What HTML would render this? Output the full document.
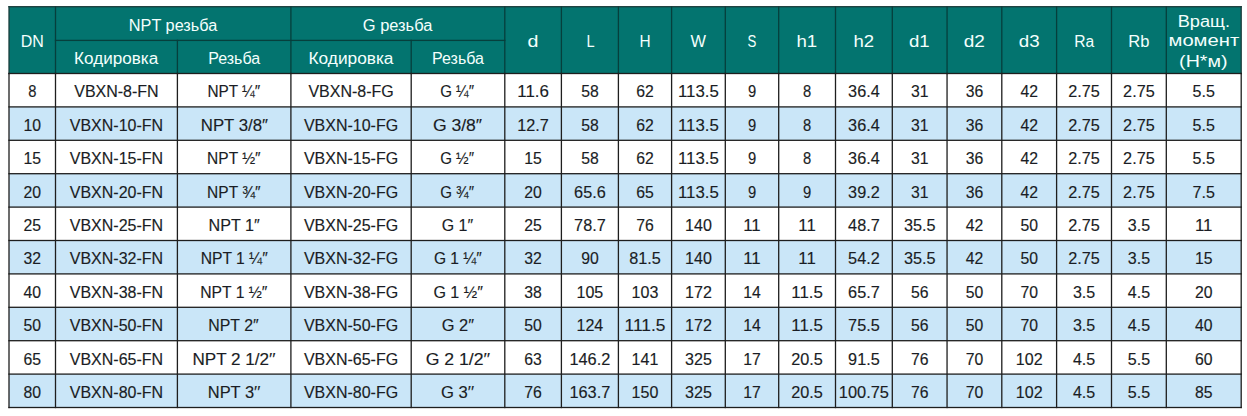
<!DOCTYPE html>
<html><head><meta charset="utf-8"><title>VBXN</title>
<style>
html,body{margin:0;padding:0;background:#fff;width:1247px;height:416px;overflow:hidden}
svg{display:block;font-family:"Liberation Sans",sans-serif}
.b text{stroke:#1a1d24;stroke-width:0.15px}

</style></head><body>
<svg width="1247" height="416" viewBox="0 0 1247 416">
<rect x="9" y="6.7" width="1232.2" height="66.8" fill="#03746f"/>
<rect x="9" y="106.9" width="1232.2" height="33.4" fill="#cae6f8"/>
<rect x="9" y="173.7" width="1232.2" height="33.4" fill="#cae6f8"/>
<rect x="9" y="240.5" width="1232.2" height="33.4" fill="#cae6f8"/>
<rect x="9" y="307.3" width="1232.2" height="33.4" fill="#cae6f8"/>
<rect x="9" y="374.1" width="1232.2" height="33.4" fill="#cae6f8"/>
<rect x="54.85" y="39.75" width="450.6" height="1.3" fill="#063f3c"/>
<rect x="8.35" y="6.05" width="1.3" height="68.1" fill="#1a3c3b"/>
<rect x="54.85" y="6.05" width="1.3" height="68.1" fill="#063f3c"/>
<rect x="176.75" y="39.75" width="1.3" height="34.4" fill="#063f3c"/>
<rect x="290.25" y="6.05" width="1.3" height="68.1" fill="#063f3c"/>
<rect x="410.55" y="39.75" width="1.3" height="34.4" fill="#063f3c"/>
<rect x="504.15" y="6.05" width="1.3" height="68.1" fill="#063f3c"/>
<rect x="560.75" y="6.05" width="1.3" height="68.1" fill="#063f3c"/>
<rect x="617.75" y="6.05" width="1.3" height="68.1" fill="#063f3c"/>
<rect x="670.95" y="6.05" width="1.3" height="68.1" fill="#063f3c"/>
<rect x="724.65" y="6.05" width="1.3" height="68.1" fill="#063f3c"/>
<rect x="778.05" y="6.05" width="1.3" height="68.1" fill="#063f3c"/>
<rect x="834.85" y="6.05" width="1.3" height="68.1" fill="#063f3c"/>
<rect x="891.65" y="6.05" width="1.3" height="68.1" fill="#063f3c"/>
<rect x="946.4" y="6.05" width="1.3" height="68.1" fill="#063f3c"/>
<rect x="1001.15" y="6.05" width="1.3" height="68.1" fill="#063f3c"/>
<rect x="1055.95" y="6.05" width="1.3" height="68.1" fill="#063f3c"/>
<rect x="1110.85" y="6.05" width="1.3" height="68.1" fill="#063f3c"/>
<rect x="1165.65" y="6.05" width="1.3" height="68.1" fill="#063f3c"/>
<rect x="1240.55" y="6.05" width="1.3" height="68.1" fill="#1a3c3b"/>
<rect x="8.35" y="6.05" width="1233.5" height="1.3" fill="#1a3c3b"/>
<rect x="8.35" y="72.85" width="1233.5" height="1.3" fill="#1e1e1e"/>
<rect x="8.35" y="106.25" width="1233.5" height="1.3" fill="#1e1e1e"/>
<rect x="8.35" y="139.65" width="1233.5" height="1.3" fill="#1e1e1e"/>
<rect x="8.35" y="173.05" width="1233.5" height="1.3" fill="#1e1e1e"/>
<rect x="8.35" y="206.45" width="1233.5" height="1.3" fill="#1e1e1e"/>
<rect x="8.35" y="239.85" width="1233.5" height="1.3" fill="#1e1e1e"/>
<rect x="8.35" y="273.25" width="1233.5" height="1.3" fill="#1e1e1e"/>
<rect x="8.35" y="306.65" width="1233.5" height="1.3" fill="#1e1e1e"/>
<rect x="8.35" y="340.05" width="1233.5" height="1.3" fill="#1e1e1e"/>
<rect x="8.35" y="373.45" width="1233.5" height="1.3" fill="#1e1e1e"/>
<rect x="8.35" y="406.85" width="1233.5" height="1.3" fill="#1e1e1e"/>
<rect x="8.35" y="72.85" width="1.3" height="335.3" fill="#1e1e1e"/>
<rect x="54.85" y="72.85" width="1.3" height="335.3" fill="#1e1e1e"/>
<rect x="176.75" y="72.85" width="1.3" height="335.3" fill="#1e1e1e"/>
<rect x="290.25" y="72.85" width="1.3" height="335.3" fill="#1e1e1e"/>
<rect x="410.55" y="72.85" width="1.3" height="335.3" fill="#1e1e1e"/>
<rect x="504.15" y="72.85" width="1.3" height="335.3" fill="#1e1e1e"/>
<rect x="560.75" y="72.85" width="1.3" height="335.3" fill="#1e1e1e"/>
<rect x="617.75" y="72.85" width="1.3" height="335.3" fill="#1e1e1e"/>
<rect x="670.95" y="72.85" width="1.3" height="335.3" fill="#1e1e1e"/>
<rect x="724.65" y="72.85" width="1.3" height="335.3" fill="#1e1e1e"/>
<rect x="778.05" y="72.85" width="1.3" height="335.3" fill="#1e1e1e"/>
<rect x="834.85" y="72.85" width="1.3" height="335.3" fill="#1e1e1e"/>
<rect x="891.65" y="72.85" width="1.3" height="335.3" fill="#1e1e1e"/>
<rect x="946.4" y="72.85" width="1.3" height="335.3" fill="#1e1e1e"/>
<rect x="1001.15" y="72.85" width="1.3" height="335.3" fill="#1e1e1e"/>
<rect x="1055.95" y="72.85" width="1.3" height="335.3" fill="#1e1e1e"/>
<rect x="1110.85" y="72.85" width="1.3" height="335.3" fill="#1e1e1e"/>
<rect x="1165.65" y="72.85" width="1.3" height="335.3" fill="#1e1e1e"/>
<rect x="1240.55" y="72.85" width="1.3" height="335.3" fill="#1e1e1e"/>
<g class="h">
<text x="32.25" y="47" fill="#f4fffd" font-size="16" text-anchor="middle">DN</text>
<text x="128.8" y="30.5" fill="#f4fffd" font-size="16" textLength="88.53" lengthAdjust="spacingAndGlyphs">NPT резьба</text>
<text x="362.8" y="30.6" fill="#f4fffd" font-size="16" textLength="69.54" lengthAdjust="spacingAndGlyphs">G резьба</text>
<text x="74.1" y="63.9" fill="#f4fffd" font-size="16" textLength="84.07" lengthAdjust="spacingAndGlyphs">Кодировка</text>
<text x="234.15" y="63.9" fill="#f4fffd" font-size="16" text-anchor="middle">Резьба</text>
<text x="308.5" y="63.9" fill="#f4fffd" font-size="16" textLength="84.97" lengthAdjust="spacingAndGlyphs">Кодировка</text>
<text x="458" y="63.9" fill="#f4fffd" font-size="16" text-anchor="middle">Резьба</text>
<text x="527.6" y="47" fill="#f4fffd" font-size="16" textLength="10.92" lengthAdjust="spacingAndGlyphs">d</text>
<text x="586.5" y="47" fill="#f4fffd" font-size="16" textLength="8.12" lengthAdjust="spacingAndGlyphs">L</text>
<text x="639.4" y="47" fill="#f4fffd" font-size="16" textLength="11.13" lengthAdjust="spacingAndGlyphs">H</text>
<text x="690.5" y="47" fill="#f4fffd" font-size="16" textLength="15.48" lengthAdjust="spacingAndGlyphs">W</text>
<text x="747.6" y="47" fill="#f4fffd" font-size="16" textLength="8.83" lengthAdjust="spacingAndGlyphs">S</text>
<text x="796.4" y="47" fill="#f4fffd" font-size="16" textLength="20.74" lengthAdjust="spacingAndGlyphs">h1</text>
<text x="853.4" y="47" fill="#f4fffd" font-size="16" textLength="20.64" lengthAdjust="spacingAndGlyphs">h2</text>
<text x="909" y="47" fill="#f4fffd" font-size="16" textLength="20.64" lengthAdjust="spacingAndGlyphs">d1</text>
<text x="963.8" y="47" fill="#f4fffd" font-size="16" textLength="21.14" lengthAdjust="spacingAndGlyphs">d2</text>
<text x="1018.8" y="47" fill="#f4fffd" font-size="16" textLength="20.84" lengthAdjust="spacingAndGlyphs">d3</text>
<text x="1074.3" y="47" fill="#f4fffd" font-size="16" textLength="19.97" lengthAdjust="spacingAndGlyphs">Ra</text>
<text x="1128.3" y="47" fill="#f4fffd" font-size="16" textLength="21.17" lengthAdjust="spacingAndGlyphs">Rb</text>
<text x="1177.7" y="26.6" fill="#f4fffd" font-size="16" textLength="52.3" lengthAdjust="spacingAndGlyphs">Вращ.</text>
<text x="1168.5" y="46.3" fill="#f4fffd" font-size="16" textLength="70.65" lengthAdjust="spacingAndGlyphs">момент</text>
<text x="1179.1" y="66.6" fill="#f4fffd" font-size="16" textLength="48.5" lengthAdjust="spacingAndGlyphs">(Н*м)</text>
</g><g class="b">
<text x="28.15" y="97.3" fill="#1a1d24" font-size="16.5" textLength="8.22" lengthAdjust="spacingAndGlyphs">8</text>
<text x="116.45" y="97.3" fill="#1a1d24" font-size="16" text-anchor="middle">VBXN-8-FN</text>
<text x="207.4" y="97.3" fill="#1a1d24" font-size="16" textLength="52.87" lengthAdjust="spacingAndGlyphs">NPT ¼″</text>
<text x="351.05" y="97.3" fill="#1a1d24" font-size="16" text-anchor="middle">VBXN-8-FG</text>
<text x="440.2" y="97.3" fill="#1a1d24" font-size="16" textLength="33.78" lengthAdjust="spacingAndGlyphs">G ¼″</text>
<text x="517.3" y="97.3" fill="#1a1d24" font-size="16.5" textLength="31.64" lengthAdjust="spacingAndGlyphs">11.6</text>
<text x="581.15" y="97.3" fill="#1a1d24" font-size="16.5" textLength="17.54" lengthAdjust="spacingAndGlyphs">58</text>
<text x="636.25" y="97.3" fill="#1a1d24" font-size="16.5" textLength="17.54" lengthAdjust="spacingAndGlyphs">62</text>
<text x="678" y="97.3" fill="#1a1d24" font-size="16.5" textLength="40.87" lengthAdjust="spacingAndGlyphs">113.5</text>
<text x="747.9" y="97.3" fill="#1a1d24" font-size="16.5" textLength="8.22" lengthAdjust="spacingAndGlyphs">9</text>
<text x="803" y="97.3" fill="#1a1d24" font-size="16.5" textLength="8.22" lengthAdjust="spacingAndGlyphs">8</text>
<text x="848.1" y="97.3" fill="#1a1d24" font-size="16.5" textLength="31.62" lengthAdjust="spacingAndGlyphs">36.4</text>
<text x="910.92" y="97.3" fill="#1a1d24" font-size="16.5" textLength="17.54" lengthAdjust="spacingAndGlyphs">31</text>
<text x="965.67" y="97.3" fill="#1a1d24" font-size="16.5" textLength="17.54" lengthAdjust="spacingAndGlyphs">36</text>
<text x="1020.45" y="97.3" fill="#1a1d24" font-size="16.5" textLength="17.54" lengthAdjust="spacingAndGlyphs">42</text>
<text x="1068.25" y="97.3" fill="#1a1d24" font-size="16.5" textLength="31.62" lengthAdjust="spacingAndGlyphs">2.75</text>
<text x="1123.1" y="97.3" fill="#1a1d24" font-size="16.5" textLength="31.62" lengthAdjust="spacingAndGlyphs">2.75</text>
<text x="1192.6" y="97.3" fill="#1a1d24" font-size="16.5" textLength="22.3" lengthAdjust="spacingAndGlyphs">5.5</text>
<text x="23.5" y="130.7" fill="#1a1d24" font-size="16.5" textLength="17.54" lengthAdjust="spacingAndGlyphs">10</text>
<text x="116.45" y="130.7" fill="#1a1d24" font-size="16" text-anchor="middle">VBXN-10-FN</text>
<text x="200.8" y="130.7" fill="#1a1d24" font-size="16" textLength="67.18" lengthAdjust="spacingAndGlyphs">NPT 3/8″</text>
<text x="351.05" y="130.7" fill="#1a1d24" font-size="16" text-anchor="middle">VBXN-10-FG</text>
<text x="432.9" y="130.7" fill="#1a1d24" font-size="16" textLength="49.2" lengthAdjust="spacingAndGlyphs">G 3/8″</text>
<text x="517.3" y="130.7" fill="#1a1d24" font-size="16.5" textLength="31.62" lengthAdjust="spacingAndGlyphs">12.7</text>
<text x="581.15" y="130.7" fill="#1a1d24" font-size="16.5" textLength="17.54" lengthAdjust="spacingAndGlyphs">58</text>
<text x="636.25" y="130.7" fill="#1a1d24" font-size="16.5" textLength="17.54" lengthAdjust="spacingAndGlyphs">62</text>
<text x="678" y="130.7" fill="#1a1d24" font-size="16.5" textLength="40.87" lengthAdjust="spacingAndGlyphs">113.5</text>
<text x="747.9" y="130.7" fill="#1a1d24" font-size="16.5" textLength="8.22" lengthAdjust="spacingAndGlyphs">9</text>
<text x="803" y="130.7" fill="#1a1d24" font-size="16.5" textLength="8.22" lengthAdjust="spacingAndGlyphs">8</text>
<text x="848.1" y="130.7" fill="#1a1d24" font-size="16.5" textLength="31.62" lengthAdjust="spacingAndGlyphs">36.4</text>
<text x="910.92" y="130.7" fill="#1a1d24" font-size="16.5" textLength="17.54" lengthAdjust="spacingAndGlyphs">31</text>
<text x="965.67" y="130.7" fill="#1a1d24" font-size="16.5" textLength="17.54" lengthAdjust="spacingAndGlyphs">36</text>
<text x="1020.45" y="130.7" fill="#1a1d24" font-size="16.5" textLength="17.54" lengthAdjust="spacingAndGlyphs">42</text>
<text x="1068.25" y="130.7" fill="#1a1d24" font-size="16.5" textLength="31.62" lengthAdjust="spacingAndGlyphs">2.75</text>
<text x="1123.1" y="130.7" fill="#1a1d24" font-size="16.5" textLength="31.62" lengthAdjust="spacingAndGlyphs">2.75</text>
<text x="1192.6" y="130.7" fill="#1a1d24" font-size="16.5" textLength="22.3" lengthAdjust="spacingAndGlyphs">5.5</text>
<text x="23.5" y="164.1" fill="#1a1d24" font-size="16.5" textLength="17.54" lengthAdjust="spacingAndGlyphs">15</text>
<text x="116.45" y="164.1" fill="#1a1d24" font-size="16" text-anchor="middle">VBXN-15-FN</text>
<text x="207.1" y="164.1" fill="#1a1d24" font-size="16" textLength="53.47" lengthAdjust="spacingAndGlyphs">NPT ½″</text>
<text x="351.05" y="164.1" fill="#1a1d24" font-size="16" text-anchor="middle">VBXN-15-FG</text>
<text x="440.2" y="164.1" fill="#1a1d24" font-size="16" textLength="33.78" lengthAdjust="spacingAndGlyphs">G ½″</text>
<text x="524.35" y="164.1" fill="#1a1d24" font-size="16.5" textLength="17.54" lengthAdjust="spacingAndGlyphs">15</text>
<text x="581.15" y="164.1" fill="#1a1d24" font-size="16.5" textLength="17.54" lengthAdjust="spacingAndGlyphs">58</text>
<text x="636.25" y="164.1" fill="#1a1d24" font-size="16.5" textLength="17.54" lengthAdjust="spacingAndGlyphs">62</text>
<text x="678" y="164.1" fill="#1a1d24" font-size="16.5" textLength="40.87" lengthAdjust="spacingAndGlyphs">113.5</text>
<text x="747.9" y="164.1" fill="#1a1d24" font-size="16.5" textLength="8.22" lengthAdjust="spacingAndGlyphs">9</text>
<text x="803" y="164.1" fill="#1a1d24" font-size="16.5" textLength="8.22" lengthAdjust="spacingAndGlyphs">8</text>
<text x="848.1" y="164.1" fill="#1a1d24" font-size="16.5" textLength="31.62" lengthAdjust="spacingAndGlyphs">36.4</text>
<text x="910.92" y="164.1" fill="#1a1d24" font-size="16.5" textLength="17.54" lengthAdjust="spacingAndGlyphs">31</text>
<text x="965.67" y="164.1" fill="#1a1d24" font-size="16.5" textLength="17.54" lengthAdjust="spacingAndGlyphs">36</text>
<text x="1020.45" y="164.1" fill="#1a1d24" font-size="16.5" textLength="17.54" lengthAdjust="spacingAndGlyphs">42</text>
<text x="1068.25" y="164.1" fill="#1a1d24" font-size="16.5" textLength="31.62" lengthAdjust="spacingAndGlyphs">2.75</text>
<text x="1123.1" y="164.1" fill="#1a1d24" font-size="16.5" textLength="31.62" lengthAdjust="spacingAndGlyphs">2.75</text>
<text x="1192.6" y="164.1" fill="#1a1d24" font-size="16.5" textLength="22.3" lengthAdjust="spacingAndGlyphs">5.5</text>
<text x="23.5" y="197.5" fill="#1a1d24" font-size="16.5" textLength="17.54" lengthAdjust="spacingAndGlyphs">20</text>
<text x="116.45" y="197.5" fill="#1a1d24" font-size="16" text-anchor="middle">VBXN-20-FN</text>
<text x="207.1" y="197.5" fill="#1a1d24" font-size="16" textLength="53.47" lengthAdjust="spacingAndGlyphs">NPT ¾″</text>
<text x="351.05" y="197.5" fill="#1a1d24" font-size="16" text-anchor="middle">VBXN-20-FG</text>
<text x="440.2" y="197.5" fill="#1a1d24" font-size="16" textLength="33.78" lengthAdjust="spacingAndGlyphs">G ¾″</text>
<text x="524.35" y="197.5" fill="#1a1d24" font-size="16.5" textLength="17.54" lengthAdjust="spacingAndGlyphs">20</text>
<text x="574.1" y="197.5" fill="#1a1d24" font-size="16.5" textLength="31.62" lengthAdjust="spacingAndGlyphs">65.6</text>
<text x="636.25" y="197.5" fill="#1a1d24" font-size="16.5" textLength="17.54" lengthAdjust="spacingAndGlyphs">65</text>
<text x="678" y="197.5" fill="#1a1d24" font-size="16.5" textLength="40.87" lengthAdjust="spacingAndGlyphs">113.5</text>
<text x="747.9" y="197.5" fill="#1a1d24" font-size="16.5" textLength="8.22" lengthAdjust="spacingAndGlyphs">9</text>
<text x="803" y="197.5" fill="#1a1d24" font-size="16.5" textLength="8.22" lengthAdjust="spacingAndGlyphs">9</text>
<text x="848.1" y="197.5" fill="#1a1d24" font-size="16.5" textLength="31.62" lengthAdjust="spacingAndGlyphs">39.2</text>
<text x="910.92" y="197.5" fill="#1a1d24" font-size="16.5" textLength="17.54" lengthAdjust="spacingAndGlyphs">31</text>
<text x="965.67" y="197.5" fill="#1a1d24" font-size="16.5" textLength="17.54" lengthAdjust="spacingAndGlyphs">36</text>
<text x="1020.45" y="197.5" fill="#1a1d24" font-size="16.5" textLength="17.54" lengthAdjust="spacingAndGlyphs">42</text>
<text x="1068.25" y="197.5" fill="#1a1d24" font-size="16.5" textLength="31.62" lengthAdjust="spacingAndGlyphs">2.75</text>
<text x="1123.1" y="197.5" fill="#1a1d24" font-size="16.5" textLength="31.62" lengthAdjust="spacingAndGlyphs">2.75</text>
<text x="1192.6" y="197.5" fill="#1a1d24" font-size="16.5" textLength="22.3" lengthAdjust="spacingAndGlyphs">7.5</text>
<text x="23.5" y="230.9" fill="#1a1d24" font-size="16.5" textLength="17.54" lengthAdjust="spacingAndGlyphs">25</text>
<text x="116.45" y="230.9" fill="#1a1d24" font-size="16" text-anchor="middle">VBXN-25-FN</text>
<text x="208.5" y="230.9" fill="#1a1d24" font-size="16" textLength="51.2" lengthAdjust="spacingAndGlyphs">NPT 1″</text>
<text x="351.05" y="230.9" fill="#1a1d24" font-size="16" text-anchor="middle">VBXN-25-FG</text>
<text x="441.8" y="230.9" fill="#1a1d24" font-size="16" textLength="31.31" lengthAdjust="spacingAndGlyphs">G 1″</text>
<text x="524.35" y="230.9" fill="#1a1d24" font-size="16.5" textLength="17.54" lengthAdjust="spacingAndGlyphs">25</text>
<text x="574.1" y="230.9" fill="#1a1d24" font-size="16.5" textLength="31.62" lengthAdjust="spacingAndGlyphs">78.7</text>
<text x="636.25" y="230.9" fill="#1a1d24" font-size="16.5" textLength="17.54" lengthAdjust="spacingAndGlyphs">76</text>
<text x="685.05" y="230.9" fill="#1a1d24" font-size="16.5" textLength="26.78" lengthAdjust="spacingAndGlyphs">140</text>
<text x="743.25" y="230.9" fill="#1a1d24" font-size="16.5" textLength="17.47" lengthAdjust="spacingAndGlyphs">11</text>
<text x="798.35" y="230.9" fill="#1a1d24" font-size="16.5" textLength="17.47" lengthAdjust="spacingAndGlyphs">11</text>
<text x="848.1" y="230.9" fill="#1a1d24" font-size="16.5" textLength="31.62" lengthAdjust="spacingAndGlyphs">48.7</text>
<text x="903.88" y="230.9" fill="#1a1d24" font-size="16.5" textLength="31.62" lengthAdjust="spacingAndGlyphs">35.5</text>
<text x="965.67" y="230.9" fill="#1a1d24" font-size="16.5" textLength="17.54" lengthAdjust="spacingAndGlyphs">42</text>
<text x="1020.45" y="230.9" fill="#1a1d24" font-size="16.5" textLength="17.54" lengthAdjust="spacingAndGlyphs">50</text>
<text x="1068.25" y="230.9" fill="#1a1d24" font-size="16.5" textLength="31.62" lengthAdjust="spacingAndGlyphs">2.75</text>
<text x="1127.75" y="230.9" fill="#1a1d24" font-size="16.5" textLength="22.3" lengthAdjust="spacingAndGlyphs">3.5</text>
<text x="1195" y="230.9" fill="#1a1d24" font-size="16.5" textLength="17.47" lengthAdjust="spacingAndGlyphs">11</text>
<text x="23.5" y="264.3" fill="#1a1d24" font-size="16.5" textLength="17.54" lengthAdjust="spacingAndGlyphs">32</text>
<text x="116.45" y="264.3" fill="#1a1d24" font-size="16" text-anchor="middle">VBXN-32-FN</text>
<text x="200.7" y="264.3" fill="#1a1d24" font-size="16" textLength="67.03" lengthAdjust="spacingAndGlyphs">NPT 1 ¼″</text>
<text x="351.05" y="264.3" fill="#1a1d24" font-size="16" text-anchor="middle">VBXN-32-FG</text>
<text x="433.9" y="264.3" fill="#1a1d24" font-size="16" textLength="47.86" lengthAdjust="spacingAndGlyphs">G 1 ¼″</text>
<text x="524.35" y="264.3" fill="#1a1d24" font-size="16.5" textLength="17.54" lengthAdjust="spacingAndGlyphs">32</text>
<text x="581.15" y="264.3" fill="#1a1d24" font-size="16.5" textLength="17.54" lengthAdjust="spacingAndGlyphs">90</text>
<text x="629.2" y="264.3" fill="#1a1d24" font-size="16.5" textLength="31.62" lengthAdjust="spacingAndGlyphs">81.5</text>
<text x="685.05" y="264.3" fill="#1a1d24" font-size="16.5" textLength="26.78" lengthAdjust="spacingAndGlyphs">140</text>
<text x="743.25" y="264.3" fill="#1a1d24" font-size="16.5" textLength="17.47" lengthAdjust="spacingAndGlyphs">11</text>
<text x="798.35" y="264.3" fill="#1a1d24" font-size="16.5" textLength="17.47" lengthAdjust="spacingAndGlyphs">11</text>
<text x="848.1" y="264.3" fill="#1a1d24" font-size="16.5" textLength="31.62" lengthAdjust="spacingAndGlyphs">54.2</text>
<text x="903.88" y="264.3" fill="#1a1d24" font-size="16.5" textLength="31.62" lengthAdjust="spacingAndGlyphs">35.5</text>
<text x="965.67" y="264.3" fill="#1a1d24" font-size="16.5" textLength="17.54" lengthAdjust="spacingAndGlyphs">42</text>
<text x="1020.45" y="264.3" fill="#1a1d24" font-size="16.5" textLength="17.54" lengthAdjust="spacingAndGlyphs">50</text>
<text x="1068.25" y="264.3" fill="#1a1d24" font-size="16.5" textLength="31.62" lengthAdjust="spacingAndGlyphs">2.75</text>
<text x="1127.75" y="264.3" fill="#1a1d24" font-size="16.5" textLength="22.3" lengthAdjust="spacingAndGlyphs">3.5</text>
<text x="1195" y="264.3" fill="#1a1d24" font-size="16.5" textLength="17.54" lengthAdjust="spacingAndGlyphs">15</text>
<text x="23.5" y="297.7" fill="#1a1d24" font-size="16.5" textLength="17.54" lengthAdjust="spacingAndGlyphs">40</text>
<text x="116.45" y="297.7" fill="#1a1d24" font-size="16" text-anchor="middle">VBXN-38-FN</text>
<text x="200.2" y="297.7" fill="#1a1d24" font-size="16" textLength="67.23" lengthAdjust="spacingAndGlyphs">NPT 1 ½″</text>
<text x="351.05" y="297.7" fill="#1a1d24" font-size="16" text-anchor="middle">VBXN-38-FG</text>
<text x="433.4" y="297.7" fill="#1a1d24" font-size="16" textLength="49.46" lengthAdjust="spacingAndGlyphs">G 1 ½″</text>
<text x="524.35" y="297.7" fill="#1a1d24" font-size="16.5" textLength="17.54" lengthAdjust="spacingAndGlyphs">38</text>
<text x="576.5" y="297.7" fill="#1a1d24" font-size="16.5" textLength="26.78" lengthAdjust="spacingAndGlyphs">105</text>
<text x="631.6" y="297.7" fill="#1a1d24" font-size="16.5" textLength="26.78" lengthAdjust="spacingAndGlyphs">103</text>
<text x="685.05" y="297.7" fill="#1a1d24" font-size="16.5" textLength="26.78" lengthAdjust="spacingAndGlyphs">172</text>
<text x="743.25" y="297.7" fill="#1a1d24" font-size="16.5" textLength="17.54" lengthAdjust="spacingAndGlyphs">14</text>
<text x="791.3" y="297.7" fill="#1a1d24" font-size="16.5" textLength="31.64" lengthAdjust="spacingAndGlyphs">11.5</text>
<text x="848.1" y="297.7" fill="#1a1d24" font-size="16.5" textLength="31.62" lengthAdjust="spacingAndGlyphs">65.7</text>
<text x="910.92" y="297.7" fill="#1a1d24" font-size="16.5" textLength="17.54" lengthAdjust="spacingAndGlyphs">56</text>
<text x="965.67" y="297.7" fill="#1a1d24" font-size="16.5" textLength="17.54" lengthAdjust="spacingAndGlyphs">50</text>
<text x="1020.45" y="297.7" fill="#1a1d24" font-size="16.5" textLength="17.54" lengthAdjust="spacingAndGlyphs">70</text>
<text x="1072.9" y="297.7" fill="#1a1d24" font-size="16.5" textLength="22.3" lengthAdjust="spacingAndGlyphs">3.5</text>
<text x="1127.75" y="297.7" fill="#1a1d24" font-size="16.5" textLength="22.3" lengthAdjust="spacingAndGlyphs">4.5</text>
<text x="1195" y="297.7" fill="#1a1d24" font-size="16.5" textLength="17.54" lengthAdjust="spacingAndGlyphs">20</text>
<text x="23.5" y="331.1" fill="#1a1d24" font-size="16.5" textLength="17.54" lengthAdjust="spacingAndGlyphs">50</text>
<text x="116.45" y="331.1" fill="#1a1d24" font-size="16" text-anchor="middle">VBXN-50-FN</text>
<text x="208.3" y="331.1" fill="#1a1d24" font-size="16" textLength="50.3" lengthAdjust="spacingAndGlyphs">NPT 2″</text>
<text x="351.05" y="331.1" fill="#1a1d24" font-size="16" text-anchor="middle">VBXN-50-FG</text>
<text x="441.8" y="331.1" fill="#1a1d24" font-size="16" textLength="32.21" lengthAdjust="spacingAndGlyphs">G 2″</text>
<text x="524.35" y="331.1" fill="#1a1d24" font-size="16.5" textLength="17.54" lengthAdjust="spacingAndGlyphs">50</text>
<text x="576.5" y="331.1" fill="#1a1d24" font-size="16.5" textLength="26.78" lengthAdjust="spacingAndGlyphs">124</text>
<text x="624.55" y="331.1" fill="#1a1d24" font-size="16.5" textLength="40.88" lengthAdjust="spacingAndGlyphs">111.5</text>
<text x="685.05" y="331.1" fill="#1a1d24" font-size="16.5" textLength="26.78" lengthAdjust="spacingAndGlyphs">172</text>
<text x="743.25" y="331.1" fill="#1a1d24" font-size="16.5" textLength="17.54" lengthAdjust="spacingAndGlyphs">14</text>
<text x="791.3" y="331.1" fill="#1a1d24" font-size="16.5" textLength="31.64" lengthAdjust="spacingAndGlyphs">11.5</text>
<text x="848.1" y="331.1" fill="#1a1d24" font-size="16.5" textLength="31.62" lengthAdjust="spacingAndGlyphs">75.5</text>
<text x="910.92" y="331.1" fill="#1a1d24" font-size="16.5" textLength="17.54" lengthAdjust="spacingAndGlyphs">56</text>
<text x="965.67" y="331.1" fill="#1a1d24" font-size="16.5" textLength="17.54" lengthAdjust="spacingAndGlyphs">50</text>
<text x="1020.45" y="331.1" fill="#1a1d24" font-size="16.5" textLength="17.54" lengthAdjust="spacingAndGlyphs">70</text>
<text x="1072.9" y="331.1" fill="#1a1d24" font-size="16.5" textLength="22.3" lengthAdjust="spacingAndGlyphs">3.5</text>
<text x="1127.75" y="331.1" fill="#1a1d24" font-size="16.5" textLength="22.3" lengthAdjust="spacingAndGlyphs">4.5</text>
<text x="1195" y="331.1" fill="#1a1d24" font-size="16.5" textLength="17.54" lengthAdjust="spacingAndGlyphs">40</text>
<text x="23.5" y="364.5" fill="#1a1d24" font-size="16.5" textLength="17.54" lengthAdjust="spacingAndGlyphs">65</text>
<text x="116.45" y="364.5" fill="#1a1d24" font-size="16" text-anchor="middle">VBXN-65-FN</text>
<text x="192.5" y="364.5" fill="#1a1d24" font-size="16" textLength="82.98" lengthAdjust="spacingAndGlyphs">NPT 2 1/2′′</text>
<text x="351.05" y="364.5" fill="#1a1d24" font-size="16" text-anchor="middle">VBXN-65-FG</text>
<text x="425.7" y="364.5" fill="#1a1d24" font-size="16" textLength="64.4" lengthAdjust="spacingAndGlyphs">G 2 1/2′′</text>
<text x="524.35" y="364.5" fill="#1a1d24" font-size="16.5" textLength="17.54" lengthAdjust="spacingAndGlyphs">63</text>
<text x="569.45" y="364.5" fill="#1a1d24" font-size="16.5" textLength="40.86" lengthAdjust="spacingAndGlyphs">146.2</text>
<text x="631.6" y="364.5" fill="#1a1d24" font-size="16.5" textLength="26.78" lengthAdjust="spacingAndGlyphs">141</text>
<text x="685.05" y="364.5" fill="#1a1d24" font-size="16.5" textLength="26.78" lengthAdjust="spacingAndGlyphs">325</text>
<text x="743.25" y="364.5" fill="#1a1d24" font-size="16.5" textLength="17.54" lengthAdjust="spacingAndGlyphs">17</text>
<text x="791.3" y="364.5" fill="#1a1d24" font-size="16.5" textLength="31.62" lengthAdjust="spacingAndGlyphs">20.5</text>
<text x="848.1" y="364.5" fill="#1a1d24" font-size="16.5" textLength="31.62" lengthAdjust="spacingAndGlyphs">91.5</text>
<text x="910.92" y="364.5" fill="#1a1d24" font-size="16.5" textLength="17.54" lengthAdjust="spacingAndGlyphs">76</text>
<text x="965.67" y="364.5" fill="#1a1d24" font-size="16.5" textLength="17.54" lengthAdjust="spacingAndGlyphs">70</text>
<text x="1015.8" y="364.5" fill="#1a1d24" font-size="16.5" textLength="26.78" lengthAdjust="spacingAndGlyphs">102</text>
<text x="1072.9" y="364.5" fill="#1a1d24" font-size="16.5" textLength="22.3" lengthAdjust="spacingAndGlyphs">4.5</text>
<text x="1127.75" y="364.5" fill="#1a1d24" font-size="16.5" textLength="22.3" lengthAdjust="spacingAndGlyphs">5.5</text>
<text x="1195" y="364.5" fill="#1a1d24" font-size="16.5" textLength="17.54" lengthAdjust="spacingAndGlyphs">60</text>
<text x="23.5" y="397.9" fill="#1a1d24" font-size="16.5" textLength="17.54" lengthAdjust="spacingAndGlyphs">80</text>
<text x="116.45" y="397.9" fill="#1a1d24" font-size="16" text-anchor="middle">VBXN-80-FN</text>
<text x="207.8" y="397.9" fill="#1a1d24" font-size="16" textLength="52.42" lengthAdjust="spacingAndGlyphs">NPT 3′′</text>
<text x="351.05" y="397.9" fill="#1a1d24" font-size="16" text-anchor="middle">VBXN-80-FG</text>
<text x="441" y="397.9" fill="#1a1d24" font-size="16" textLength="33.03" lengthAdjust="spacingAndGlyphs">G 3′′</text>
<text x="524.35" y="397.9" fill="#1a1d24" font-size="16.5" textLength="17.54" lengthAdjust="spacingAndGlyphs">76</text>
<text x="569.45" y="397.9" fill="#1a1d24" font-size="16.5" textLength="40.86" lengthAdjust="spacingAndGlyphs">163.7</text>
<text x="631.6" y="397.9" fill="#1a1d24" font-size="16.5" textLength="26.78" lengthAdjust="spacingAndGlyphs">150</text>
<text x="685.05" y="397.9" fill="#1a1d24" font-size="16.5" textLength="26.78" lengthAdjust="spacingAndGlyphs">325</text>
<text x="743.25" y="397.9" fill="#1a1d24" font-size="16.5" textLength="17.54" lengthAdjust="spacingAndGlyphs">17</text>
<text x="791.3" y="397.9" fill="#1a1d24" font-size="16.5" textLength="31.62" lengthAdjust="spacingAndGlyphs">20.5</text>
<text x="838.8" y="397.9" fill="#1a1d24" font-size="16.5" textLength="50.18" lengthAdjust="spacingAndGlyphs">100.75</text>
<text x="910.92" y="397.9" fill="#1a1d24" font-size="16.5" textLength="17.54" lengthAdjust="spacingAndGlyphs">76</text>
<text x="965.67" y="397.9" fill="#1a1d24" font-size="16.5" textLength="17.54" lengthAdjust="spacingAndGlyphs">70</text>
<text x="1015.8" y="397.9" fill="#1a1d24" font-size="16.5" textLength="26.78" lengthAdjust="spacingAndGlyphs">102</text>
<text x="1072.9" y="397.9" fill="#1a1d24" font-size="16.5" textLength="22.3" lengthAdjust="spacingAndGlyphs">4.5</text>
<text x="1127.75" y="397.9" fill="#1a1d24" font-size="16.5" textLength="22.3" lengthAdjust="spacingAndGlyphs">5.5</text>
<text x="1195" y="397.9" fill="#1a1d24" font-size="16.5" textLength="17.54" lengthAdjust="spacingAndGlyphs">85</text>
</g>
</svg>
</body></html>
